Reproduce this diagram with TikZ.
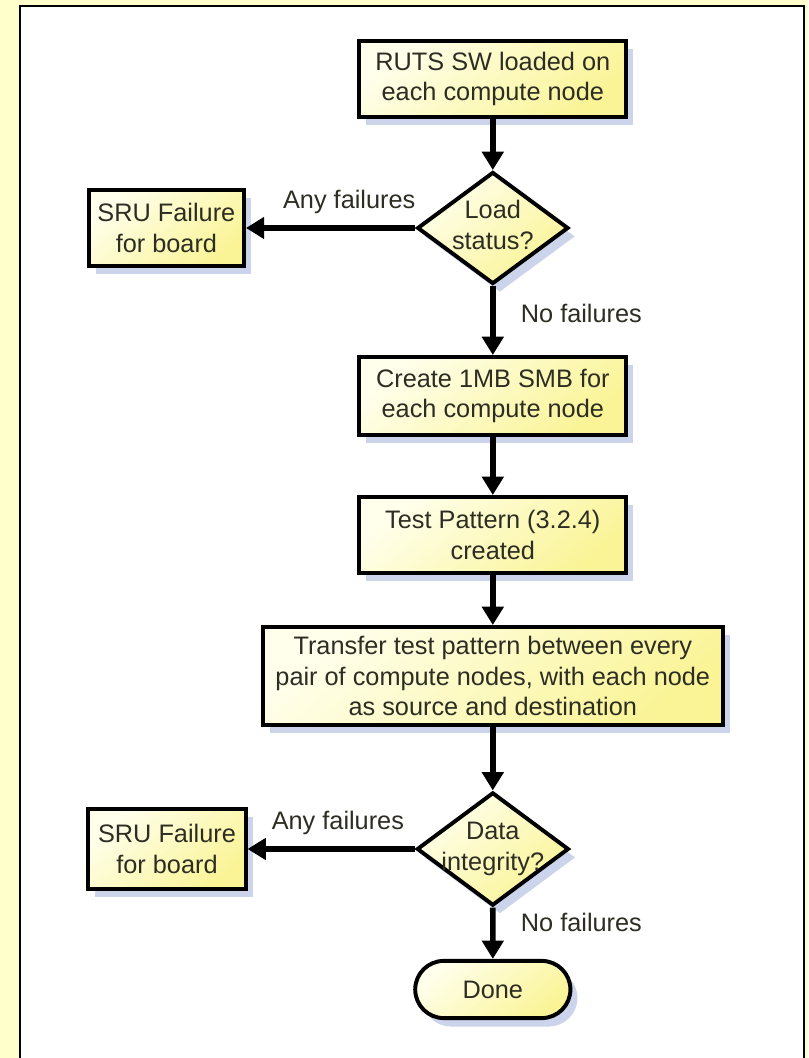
\documentclass[tikz,border=0pt]{standalone}
\usepackage{fontspec}
\setmainfont{Liberation Sans}
\usepackage{tikz}
\usetikzlibrary{arrows.meta,positioning,shapes.geometric,shapes.misc,shadows}
\usepackage{xcolor}

\definecolor{fundo}{RGB}{255,255,204}
\definecolor{amareloclaro}{RGB}{255,255,236}
\definecolor{amarelo}{RGB}{250,244,150}
\definecolor{sombra}{RGB}{204,212,236}
\definecolor{texto}{RGB}{45,45,35}

\newcommand{\losango}[1]{\makebox[0pt]{\begin{tabular}{@{}c@{}}#1\end{tabular}}}

\tikzset{
  caixa/.style={rectangle, draw=black, line width=2.8pt,
    top color=amareloclaro, bottom color=amarelo, shading angle=40,
    drop shadow={shadow xshift=5pt, shadow yshift=-6pt, fill=sombra, opacity=1},
    text=texto, align=center, inner sep=0pt, font=\fontsize{18}{22}\selectfont},
  decisao/.style={caixa, diamond},
  terminal/.style={caixa, rounded rectangle},
  seta/.style={line width=4pt, -{Triangle[width=15pt,length=13pt]}},
  rotulo/.style={text=texto, inner sep=0pt, font=\fontsize{18}{22}\selectfont},
}

\begin{document}
\begin{tikzpicture}
        \useasboundingbox (0,0) rectangle (20.2,26.45);
        % Fundo amarelo e moldura branca
        \fill[fundo] (0,0) rectangle (20.2,26.45);
        \draw[fill=white, line width=2pt] (0.5,-1) rectangle (20.1,26.3);
        % Carga do software
        \node[caixa, minimum width=6.68cm, minimum height=1.9cm] (ruts) at (12.32,24.475)
            {RUTS SW loaded on\\each compute node};
        \node[decisao, minimum width=3.78cm, minimum height=2.8cm] (carga) at (12.32,20.75)
            {\losango{Load\\status?}};
        \node[caixa, minimum width=3.88cm, minimum height=1.9cm] (falha1) at (4.16,20.75)
            {SRU Failure\\for board};
        % Preparação do teste
        \node[caixa, minimum width=6.68cm, minimum height=1.95cm] (smb) at (12.32,16.55)
            {Create 1MB SMB for\\each compute node};
        \node[caixa, minimum width=6.68cm, minimum height=1.9cm] (padrao) at (12.32,13.075)
            {Test Pattern (3.2.4)\\created};
        \node[caixa, minimum width=11.5cm, minimum height=2.45cm] (transf) at (12.32,9.55)
            {Transfer test pattern between every\\pair of compute nodes, with each node\\as source and destination};
        % Verificação dos dados
        \node[decisao, minimum width=3.8cm, minimum height=2.83cm] (integ) at (12.32,5.225)
            {\losango{Data\\integrity?}};
        \node[caixa, minimum width=3.93cm, minimum height=2cm] (falha2) at (4.175,5.225)
            {SRU Failure\\for board};
        \node[terminal, minimum width=3.88cm, minimum height=1.43cm] (fim) at (12.32,1.7125) {Done};
        % Setas
        \draw[seta] (ruts) -- (carga);
        \draw[seta] (carga) -- node[rotulo, above=8pt, pos=0.39] (any1) {Any failures} (falha1);
        \draw[seta] (carga) -- node[rotulo, right=18pt, pos=0.4] (no1) {No failures} (smb);
        \draw[seta] (smb) -- (padrao);
        \draw[seta] (padrao) -- (transf);
        \draw[seta] (transf) -- (integ);
        \draw[seta] (integ) -- node[rotulo, above=8pt, pos=0.46] (any2) {Any failures} (falha2);
        \draw[seta] (integ) -- node[rotulo, right=18pt, pos=0.29] (no2) {No failures} (fim);
    \end{tikzpicture}
\end{document}
